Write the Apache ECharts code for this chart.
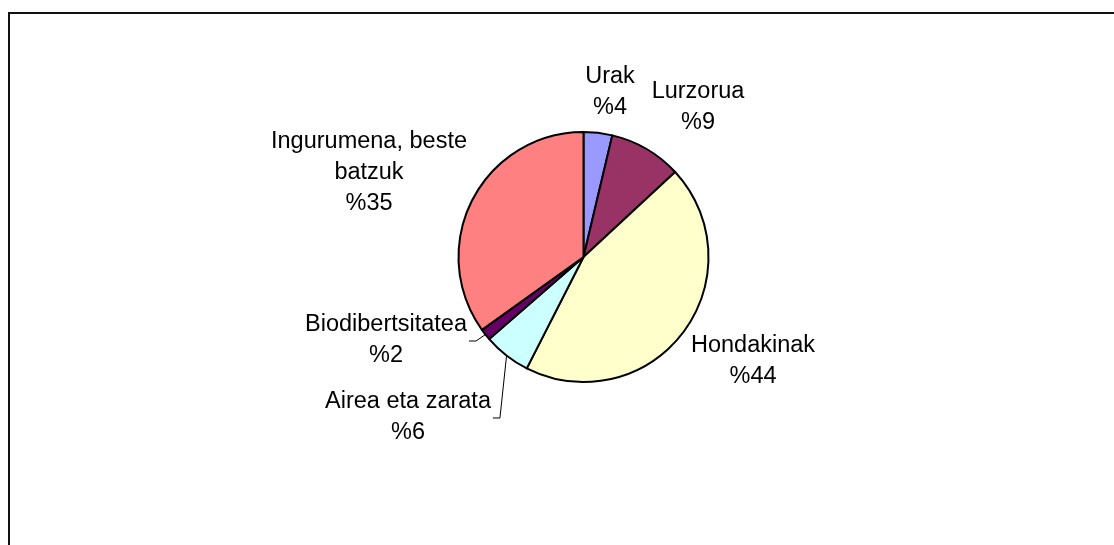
<!DOCTYPE html>
<html>
<head>
<meta charset="utf-8">
<script src="https://cdn.jsdelivr.net/npm/echarts@6/dist/echarts.min.js"></script>
<style>
  html, body { margin: 0; padding: 0; background: #fff; }
  #chart { width: 1114px; height: 545px; }
</style>
</head>
<body>
<div id="chart"></div>
<script>
// datos (clockwise desde arriba)
const categories = ['Urak', 'Lurzorua', 'Hondakinak', 'Airea eta zarata', 'Biodibertsitatea', 'Ingurumena, beste\nbatzuk']
const shares = [3.7, 9.4, 44.4, 6.1, 1.5, 34.9]
const sliceColors = ['#9999FF', '#993366', '#FFFFCC', '#CCFFFF', '#660066', '#FF8080']
// etiquetas que llevan linea guia
const hasLeader = [false, false, false, true, true, false]
// centro de cada etiqueta (px)
const labelPos = [[610, 92], [698, 107], [753, 361], [408, 417], [386, 340], [369, 173]]

const myChart = echarts.init(document.getElementById('chart'))

const option = {
  backgroundColor: '#fff',
  animation: false,
  graphic: [
    {
      type: 'rect',
      shape: { x: 9, y: 13, width: 1300, height: 800 },
      style: { fill: 'none', stroke: '#111', lineWidth: 2 },
      silent: true
    }
  ],
  series: [
    {
      type: 'pie',
      center: [583.5, 257],
      radius: [0, 125],
      startAngle: 90,
      clockwise: true,
      avoidLabelOverlap: false,
      itemStyle: {
        borderColor: '#000',
        borderWidth: 2
      },
      label: {
        show: true,
        position: 'outside',
        color: '#000',
        fontFamily: 'Liberation Sans, Arial, sans-serif',
        fontSize: 23.5,
        lineHeight: 31,
        formatter: (p) => p.name + '\n%' + Math.round(p.percent)
      },
      labelLine: {
        lineStyle: { color: '#000', width: 1 }
      },
      labelLayout: (params) => {
        const pos = labelPos[params.dataIndex]
        const res = { x: pos[0], y: pos[1], align: 'center', verticalAlign: 'middle' }
        if (hasLeader[params.dataIndex] && params.labelLinePoints) {
          const w = params.labelRect.width
          const right = pos[0] + w / 2
          res.labelLinePoints = [
            params.labelLinePoints[0],
            [right + 9, pos[1] + 1],
            [right + 2, pos[1] + 1]
          ]
        }
        return res
      },
      data: categories.map((name, i) => ({
        name: name,
        value: shares[i],
        itemStyle: { color: sliceColors[i] },
        labelLine: { show: hasLeader[i] }
      }))
    }
  ]
}

myChart.setOption(option)
</script>
</body>
</html>
